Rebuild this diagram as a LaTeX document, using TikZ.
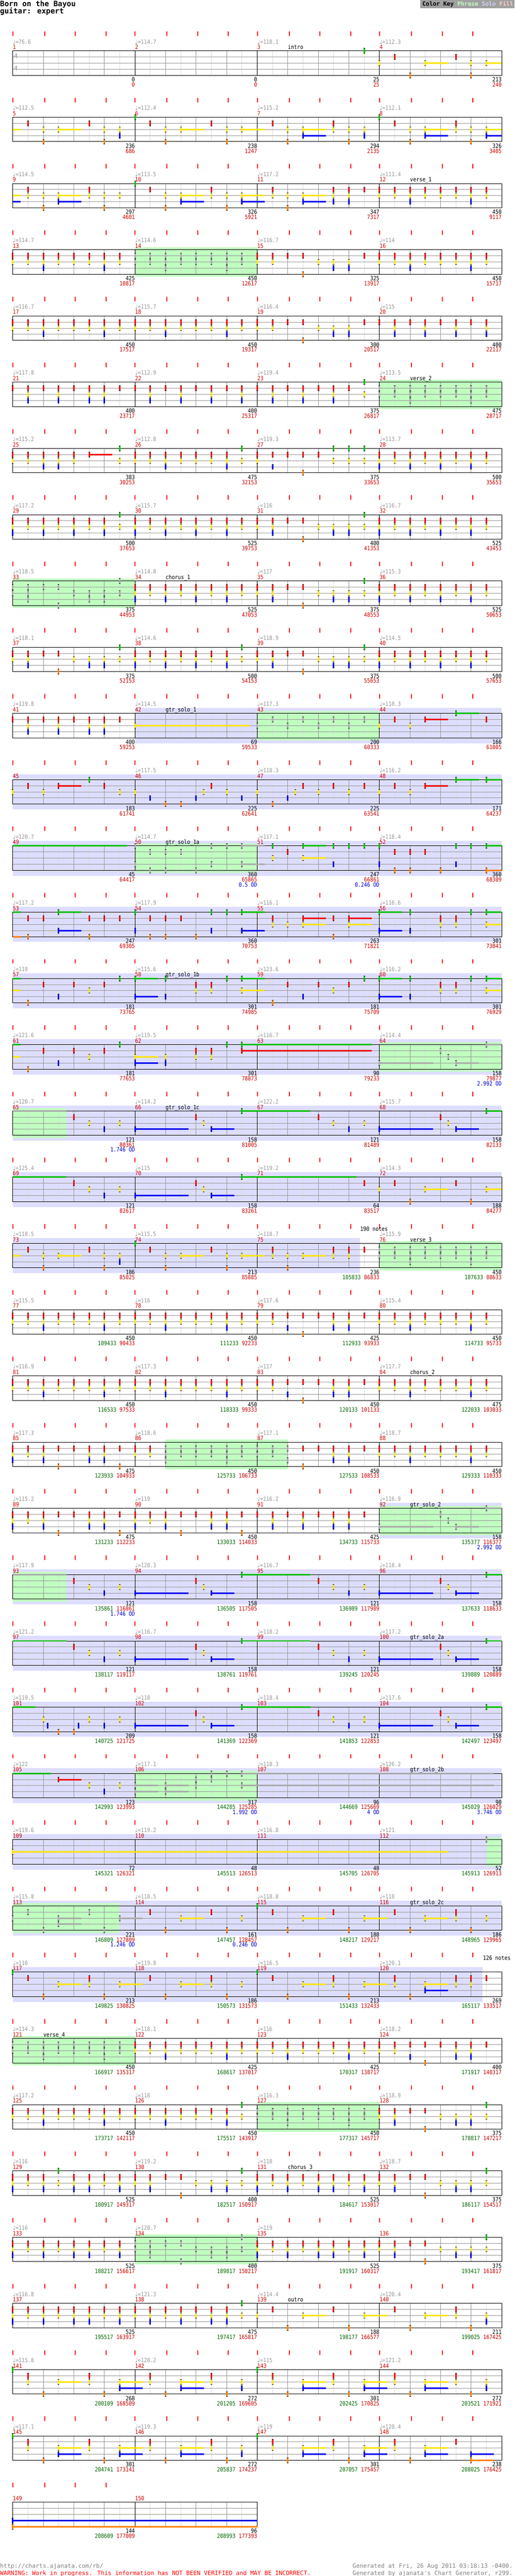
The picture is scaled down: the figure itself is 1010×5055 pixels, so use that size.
\documentclass[tikz,border=0pt]{standalone}
\usepackage{fontspec}
\usepackage{xcolor}
\usepackage{tikz}
\usetikzlibrary{positioning}
\usetikzlibrary{backgrounds}

\newfontfamily\chartfont{DejaVu Sans Mono}[FakeStretch=0.87]
\newfontfamily\chartmono{DejaVu Sans Mono}
\newfontfamily\notefont{DejaVu Sans}

\definecolor{lane0}{RGB}{0,192,0}
\definecolor{lane1}{RGB}{240,0,0}
\definecolor{lane2}{RGB}{250,228,0}
\definecolor{lane3}{RGB}{0,0,240}
\definecolor{lane4}{RGB}{255,128,0}
\definecolor{spgray}{RGB}{170,170,170}
\definecolor{phrasebg}{RGB}{192,255,192}
\definecolor{solobg}{RGB}{221,221,255}
\definecolor{solokey}{RGB}{208,208,255}
\definecolor{fillbg}{RGB}{255,200,200}
\definecolor{tempogray}{RGB}{150,150,150}
\definecolor{mnumred}{RGB}{204,0,0}
\definecolor{gscore}{RGB}{0,102,0}
\definecolor{rscore}{RGB}{200,0,0}
\definecolor{odblue}{RGB}{0,0,204}
\definecolor{keybg}{RGB}{160,160,160}
\definecolor{linegray}{RGB}{150,150,150}
\definecolor{halfgray}{RGB}{220,220,220}
\definecolor{footgray}{RGB}{128,128,128}

\tikzset{
	staffline/.style={draw=black, line width=1pt},
	laneline/.style={draw=linegray, line width=1pt},
	beatline/.style={draw=linegray, line width=1pt},
	halfline/.style={draw=halfgray, line width=1pt},
	beattick/.style={fill=red},
	phrase/.style={fill=phrasebg},
	solo/.style={fill=solobg},
	chart text/.style={inner sep=0pt, font=\chartfont\fontsize{11.5}{12}\selectfont},
	tempo/.style={chart text, text=tempogray, anchor=base west},
	mnum/.style={chart text, text=mnumred, anchor=base west},
	seclabel/.style={chart text, text=black, anchor=base west},
	pts/.style={chart text, text=black, anchor=base east},
	tot/.style={chart text, text=rscore, anchor=base east},
	gtot/.style={chart text, text=gscore},
	od/.style={chart text, text=odblue, anchor=base east},
	timesig/.style={inner sep=0pt, text=spgray, font=\chartmono\bfseries\fontsize{13}{13}\selectfont},
	title/.style={inner sep=0pt, anchor=base west, font=\chartmono\bfseries\fontsize{14.5}{16}\selectfont},
	keytext/.style={inner sep=0pt, anchor=base west, font=\chartmono\bfseries\fontsize{11.4}{12}\selectfont},
	foot/.style={inner sep=0pt, anchor=base west, font=\chartmono\fontsize{11.6}{12}\selectfont}
}

% note patterns: eighth/lane/sustain (lane 0 green ... 4 orange, eighth -1 = tail)
\newcommand{\defpattern}[2]{\expandafter\def\csname pat@#1\endcsname{#2}}
\defpattern{nil}{99/0/0}
\defpattern{intro3}{7/0/0}
\defpattern{intro4}{0/2/0,1/1/0,2/4/0,3/2/1.5,5/1/0,6/2/0,6/4/0,7/2/1.5}
\defpattern{riff1}{-1/2/0.5,1/1/0,2/2/0,2/4/0,3/2/1.5,5/1/0,6/2/0,6/4/0,7/2/0,7/3/0}
\defpattern{riff2}{0/0/0,1/1/0,2/2/0,2/4/0,3/2/1.5,5/1/0,6/2/0,6/4/0,7/2/1.5}
\defpattern{riff3}{1/1/0,2/2/0,2/4/0,3/2/1.5,3/3/1.5,5/1/0,5/2/0,6/2/0,6/4/0,7/2/0,7/3/0}
\defpattern{riff4}{0/0/0,1/1/0,2/2/0,2/4/0,3/2/1.5,3/3/1.5,5/1/0,5/2/0,6/2/0,6/4/0,7/2/1.5,7/3/1.5}
\defpattern{riff5}{-1/2/0.5,-1/3/0.5,1/1/0,1/2/0,2/2/0,2/4/0,3/2/1.5,3/3/1.5,5/1/0,5/2/0,6/2/0,6/4/0,7/2/0}
\defpattern{riff6}{1/1/0,1/2/0,2/2/0,2/4/0,3/2/1.5,3/3/1.5,5/1/0,5/2/0,5/3/0,6/1/0,6/2/0,6/3/0,7/1/0}
\defpattern{riff7}{1/1/0,1/2/0,2/2/0,2/4/0,3/2/1.5,5/1/0,5/2/0,6/1/0,6/2/0,7/1/0}
\defpattern{verse1}{0/1/0,0/2/0,1/1/0,1/2/0,2/1/0,2/2/0,2/3/0,3/1/0,3/2/0,4/1/0,4/2/0,5/1/0,5/2/0,6/1/0,6/2/0,6/3/0,7/1/0,7/2/0}
\defpattern{verse2}{0/1/0,0/2/0,0/3/0,1/1/0,1/2/0,2/1/0,2/2/0,2/3/0,3/1/0,3/2/0,4/1/0,4/2/0,4/3/0,5/1/0,5/2/0,6/1/0,6/2/0,6/3/0,7/1/0,7/2/0}
\defpattern{verse3}{0/1/0,0/2/0,0/3/0,1/1/0,1/2/0,2/1/0,2/2/0,2/3/0,3/1/0,3/2/0,4/1/0,4/2/0,4/3/0,5/1/0,5/2/0,6/1/0,6/2/0,6/3/0,7/0/0,7/2/0}
\defpattern{verse4}{0/1/0,0/2/0,1/1/0,1/2/0,2/1/0,2/2/0,2/3/0,3/1/0,3/2/0,4/1/0,4/2/0,5/1/0,5/2/0,6/1/0,6/2/0,6/3/0,7/0/0,7/2/0}
\defpattern{verse5}{0/1/0,0/2/0,1/1/0,1/2/0,2/1/0,2/2/0,2/3/0,3/1/0,3/2/0,3/3/0,4/1/0,4/2/0,5/1/1.5,7/0/0,7/2/0}
\defpattern{verse6}{0/1/0,0/2/0,1/1/0,1/2/0,1/3/0,2/1/0,2/2/0,3/1/0,3/2/0,3/3/0,4/1/0,4/2/0,5/1/0,5/2/0,5/3/0,6/1/0,6/2/0,6/3/0,7/0/0,7/2/0}
\defpattern{turn1}{0/1/0,0/2/0,1/1/0,1/2/0,2/1/0,3/1/0,3/4/0,4/2/0,5/2/0,5/3/0,6/2/0,6/3/0,7/1/0}
\defpattern{turn2}{0/1/0,0/2/0,1/1/0,1/2/0,2/1/0,2/3/0,3/1/0,3/4/0,4/1/0,5/1/0,5/2/0,5/3/0,6/1/0,6/2/0,6/3/0,7/1/0}
\defpattern{turn3}{0/1/0,0/2/0,1/1/0,1/3/0,2/1/0,3/1/0,3/4/0,4/1/0,5/0/0,5/2/0,6/0/0,6/2/0,7/0/0,7/2/0}
\defpattern{turn4}{0/1/0,0/2/0,1/1/0,1/2/0,1/3/0,2/1/0,3/1/0,3/4/0,4/2/0,5/2/0,5/3/0,6/2/0,6/3/0,7/0/0,7/2/0}
\defpattern{chug1}{0/1/0,1/1/0,1/2/0,1/3/0,2/1/0,3/1/0,3/2/0,3/3/0,4/1/0,5/1/0,5/2/0,5/3/0,6/1/0,6/2/0,6/3/0,7/1/0}
\defpattern{chug2}{0/1/0,1/1/0,1/2/0,1/3/0,2/1/0,3/1/0,3/2/0,3/3/0,4/1/0,5/1/0,5/2/0,5/3/0,6/1/0,7/1/0,7/2/0,7/3/0}
\defpattern{chug3}{0/1/0,1/1/0,1/2/0,1/3/0,2/1/0,3/1/0,3/2/0,3/3/0,4/1/0,5/1/0,5/2/0,5/3/0,6/1/0,7/0/0,7/2/0}
\defpattern{chug4}{0/1/0,0/2/0,0/3/0,1/1/0,1/2/0,2/1/0,2/2/0,2/3/0,3/1/0,3/4/0,4/1/0,5/1/0,5/2/0,5/3/0,6/1/0,6/2/0,6/3/0,7/1/0,7/4/0}
\defpattern{chug5}{0/1/0,0/2/0,0/3/0,1/1/0,1/2/0,2/1/0,2/2/0,2/3/0,3/1/0,3/2/0,4/1/0,4/2/0,4/3/0,5/1/0,5/2/0,5/3/0,6/1/0,6/2/0,7/1/0,7/2/0,7/3/0}
\defpattern{chug6}{0/1/0,0/2/0,0/3/0,1/1/0,1/2/0,2/1/0,2/2/0,2/3/0,3/0/0,3/2/0,4/1/0,4/2/0,4/3/0,5/1/0,5/2/0,5/3/0,6/1/0,6/2/0,7/1/0,7/2/0,7/3/0}
\defpattern{solo1}{0/2/7.5}
\defpattern{solo2}{0/2/0,1/1/0,2/2/0,3/1/0,4/2/0,5/1/0,6/2/0,7/1/0}
\defpattern{solo3}{0/2/0,1/1/0,2/2/0,3/1/1.5,5/0/1.5,7/1/0}
\defpattern{solo4}{0/2/0,1/1/0,2/2/0,3/1/1.5,5/0/0,6/1/0,7/2/0}
\defpattern{solo5}{0/2/0,1/3/0,2/4/0,3/4/0,4/3/0,4.5/2/0,5/1/0,6/2/0,7/3/0}
\defpattern{solo6}{0/2/0,1/4/0,2/3/0,2.5/2/0,3/1/0,4/2/0,5/1/0,6/2/0,7/1/0}
\defpattern{solo7}{0/2/0,1/1/0,2/2/0,3/1/1.5,5/0/1.5,7/0/1.5}
\defpattern{solo8}{-1/0/7.5}
\defpattern{solo9}{0/0/0,0/3/0,1/1/0,1/4/0,2/1/0,2/4/0,3/1/0,4/4/0,5/0/0,5/3/0,6/0/0,7/0/1.5,7/3/1.5}
\defpattern{solo10}{1/0/0,1/2/0,2/1/0,3/0/1.5,3/2/1.5,5/0/0,5/3/0,6/0/0,7/0/0}
\defpattern{solo11}{0/0/0,0/3/0,1/1/0,1/4/0,2/1/0,2/4/0,3/1/0,4/4/0,5/0/0,5/3/0,6/0/0,7/0/1.5,7/4/1.5}
\defpattern{solo12}{-1/0/0.5,-1/4/0.5,1/1/0,1/4/0,2/1/0,3/0/1.5,3/3/1.5,5/1/0,5/4/0,6/1/0,7/1/0}
\defpattern{solo13}{1/1/0,1/2/0,2/2/0,3/1/1.5,3/2/1.5,5/1/0,5/4/0,6/1/1.5,6/2/1.5}
\defpattern{solo14}{0/0/1.5,0/3/1.5,2/0/0,2/3/0,4/1/0,4/2/0,5/1/0,5/2/0,6/0/0,7/0/1.5,7/2/1.5}
\defpattern{solo15}{-1/0/0.5,-1/2/0.5,1/4/0,2/1/0,3/3/0,4/1/0,5/2/0,6/1/0,7/0/0}
\defpattern{solo16}{0/2/1.5,0/3/1.5,2/2/0,2/3/0,4/1/0,4/2/0,5/1/0,5/2/0,6/0/0,7/0/8.5,7/1/8.5}
\defpattern{solo17}{0/3/3.5,4/1/0,4.5/2/0,5/3/1.5,7/0/1.5}
\defpattern{solo18}{-1/0/3.5,4/1/0,5/2/0,6/3/0,7/2/0}
\defpattern{solo19}{0/3/3.5,4/1/0,4.5/2/0,5/3/1.5,7/0/4.5}
\defpattern{solo20}{4/1/0,5/2/0,6/3/0,7/2/0}
\defpattern{solo21}{0/3/3.5,4/1/0,4.5/2/0,5/3/1.5,7/0/7.5}
\defpattern{solo22}{7/1/0}
\defpattern{solo23}{0/2/0,1/1/0,2/4/0,3/2/1.5,5/1/0,6/4/0,7/2/1.5}
\defpattern{solo24}{-1/0/1.5,2/2/0,2.3/3/0,3/4/0,4/4/0,4.3/3/0,5/2/0,6/3/0,7/2/0}
\defpattern{solo25}{-1/0/2.5,3/1/1.5,5/2/0,6/3/0,7/2/0}
\defpattern{solo26}{0/2/1.5,0/3/1.5,2/2/1.5,2/3/1.5,4/1/0,4/2/0,5/0/0,5/1/0,6/0/0,7/0/16.5,7/2/16.5}
\defpattern{solo27}{0/2/28.5}
\defpattern{solo28}{7/0/0}
\defpattern{solo29}{0/2/0,1/1/0,2/4/0,3/2/1.5,3/3/1.5,5/1/0,6/4/0,7/2/1.5}
\defpattern{solo30}{1/1/0,2/4/0,3/2/1.5,5/1/0,6/4/0,7/2/0}
\defpattern{solo31}{0/0/0,1/1/0,2/4/0,3/2/1.5,5/1/0,6/4/0,7/2/1.5}
\defpattern{solo32}{1/1/0,2/4/0,3/2/1.5,5/1/0,5/2/0,6/4/0,7/2/0}
\defpattern{solo33}{0/0/0,1/1/0,2/4/0,3/2/1.5,5/1/0,5/2/0,6/4/0,7/2/1.5}
\defpattern{solo34}{1/1/0,1/2/0,2/4/0,3/2/1.5,3/3/1.5,5/1/0,5/2/0,6/1/0,6/2/0,7/1/0}
\defpattern{outro2}{0/0/0,1/1/0,1/2/0,2/4/0,3/2/1.5,5/1/0,5/2/0,6/4/0,7/2/1.5,7/3/1.5}
\defpattern{outro3}{1/1/0,1/2/0,2/4/0,3/2/1.5,3/3/1.5,5/1/0,5/2/0,6/4/0,7/2/0,7/3/0}
\defpattern{outro4}{0/0/0,1/1/0,1/2/0,2/4/0,3/2/1.5,3/3/1.5,5/1/0,5/2/0,6/4/0,7/2/1.5,7/3/1.5}
\defpattern{outro5}{1/1/0,1/2/0,2/4/0,3/2/1.5,3/3/1.5,5/1/0,6/3/1.5,6/4/1.5}
\defpattern{outro6}{1/1/0,2/4/0,3/2/1.5,5/1/0,5/2/0,6/4/0,7/2/0,7/3/0}
\defpattern{end1}{0/3/16,0/4/16}

% #1 x, #2 y of measure, #3 pattern, #4 #5 star power range, #6 row end
\newcommand{\drawnotes}[6]{%
	\expandafter\let\expandafter\curpat\csname pat@#3\endcsname
	\foreach \np/\nl/\ns in \curpat {%
		\ifdim\np pt<8.5pt
			\pgfmathsetmacro\pp{max(\np,0)}
			\pgfmathsetmacro\xn{#1+\pp*30}
			\pgfmathsetmacro\yn{#2+\nl*12}
			\pgfmathtruncatemacro\isgray{((\pp>=#4)&&(\pp<=#5))?1:0}
			\ifnum\isgray=1 \def\nc{spgray}\else\edef\nc{lane\nl}\fi
			\ifdim\ns pt>0pt
				\pgfmathsetmacro\xe{min(\xn+\ns*30,#6)}
				\fill[\nc] (\xn,\yn-1.5) rectangle (\xe,\yn+1.5);
			\fi
			\ifdim\np pt<0pt\else
				\fill[\nc] (\xn-1.5,\yn-5.5) rectangle (\xn+1.5,\yn+5.5);
				\fill[black] (\xn-1.5,\yn-5.5) rectangle (\xn+1.5,\yn-4.5);
				\fill[black] (\xn-1.5,\yn+4.5) rectangle (\xn+1.5,\yn+5.5);
			\fi
		\fi
	}%
}

\begin{document}
\begin{tikzpicture}[x=1pt,y=-1pt]
	\useasboundingbox (0,0) rectangle (1010,5055);
	\begin{pgfonlayer}{background}
		\fill[white] (0,0) rectangle (1010,5055);
		%solo sections
		\foreach \r/\xa/\xb in {10/265/985,11/25/985,12/25/985,13/25/985,14/25/985,15/25/985,16/25/985,17/25/985,18/25/707,
			22/745/985,23/25/985,24/25/985,25/25/985,26/25/985,27/25/985,28/25/985,29/25/947}
			\fill[solo] (\xa,{100+130*\r-10.5}) rectangle (\xb,{100+130*\r+58.5});
	\end{pgfonlayer}
	
	%header
	\node[title] (songtitle) at (0,12.5) {Born on the Bayou};
	\node[title] (songpart) at (0,27) {guitar: expert};
	\fill[keybg] (825,0) rectangle (1010,16);
	\node[keytext] (colorkey) at (829,11.5) {Color Key \textcolor{phrasebg}{Phrase} \textcolor{solokey}{Solo} \textcolor{fillbg}{Fill}};
	
	%staff rows
	\foreach \r in {0,...,37} {
		\pgfmathsetmacro\ry{100+130*\r}
		\ifnum\r=37 \def\nm{2}\def\nt{1}\else\def\nm{4}\def\nt{4}\fi
		\pgfmathsetmacro\rx{25+240*\nm}
		\pgfmathtruncatemacro\hk{8*\nm-1}
		\pgfmathtruncatemacro\bk{4*\nm-1}
		\pgfmathtruncatemacro\mk{\nm-1}
		\pgfmathtruncatemacro\tk{\nt-1}
		\foreach \k in {1,3,...,\hk} \draw[halfline] (25+30*\k,\ry) -- (25+30*\k,\ry+48);
		\foreach \k in {1,...,\bk} \draw[beatline] (25+60*\k,\ry) -- (25+60*\k,\ry+48);
		\foreach \j in {1,2,3} \draw[laneline] (25,\ry+12*\j) -- (\rx,\ry+12*\j);
		\foreach \k in {1,...,\mk} \draw[staffline] (25+240*\k,\ry) -- (25+240*\k,\ry+48);
		\draw[staffline] (25,\ry) rectangle (\rx,\ry+48);
		\foreach \k in {0,...,\tk} \foreach \o in {0,63,123,183}
			\fill[beattick] (25+240*\k+\o-1,\ry-38) rectangle (25+240*\k+\o+1,\ry-29);
	}
	\node[timesig] (tsa) at (31,110) {4};
	\node[timesig] (tsb) at (31,134) {4};
	
	%measures: number/tempo/score/green total/red total/pattern/star power from/to
	\foreach \mm/\tempo/\pts/\gsc/\rsc/\pat/\ga/\gb in {
		1/76.6/0/0/0/nil/9/9, 2/114.7/0/0/0/nil/9/9, 3/118.1/25/0/25/intro3/9/9, 4/112.3/213/0/240/intro4/9/9,
		5/112.5/236/0/686/riff1/9/9, 6/112.4/238/0/1247/riff2/9/9, 7/115.2/294/0/2135/riff3/9/9, 8/112.1/326/0/3405/riff4/9/9,
		9/114.5/297/0/4601/riff5/9/9, 10/113.5/326/0/5921/riff4/9/9, 11/117.2/347/0/7317/riff6/9/9, 12/111.4/450/0/9117/verse1/9/9,
		13/114.7/425/0/10817/verse1/9/9, 14/114.6/450/0/12617/verse1/0/8, 15/116.7/325/0/13917/turn1/9/9, 16/114/450/0/15717/verse1/9/9,
		17/116.7/450/0/17517/verse1/9/9, 18/115.7/450/0/19317/verse1/9/9, 19/116.4/300/0/20517/turn1/9/9, 20/115/400/0/22117/chug2/9/9,
		21/117.8/400/0/23717/chug1/9/9, 22/112.9/400/0/25317/chug2/9/9, 23/119.4/375/0/26817/chug3/9/9, 24/113.5/475/0/28717/verse1/0/8,
		25/115.2/383/0/30253/verse5/9/9, 26/112.8/475/0/32153/verse4/9/9, 27/119.3/375/0/33653/turn3/9/9, 28/113.7/500/0/35653/verse2/9/9,
		29/117.2/500/0/37653/verse3/9/9, 30/115.7/525/0/39753/verse2/9/9, 31/116/400/0/41353/turn4/9/9, 32/116.7/525/0/43453/verse2/9/9,
		33/118.5/375/0/44953/turn4/0/8, 34/114.8/525/0/47053/verse2/9/9, 35/117/375/0/48553/turn4/9/9, 36/115.3/525/0/50653/verse2/9/9,
		37/118.1/375/0/52153/turn4/9/9, 38/114.6/500/0/54153/verse3/9/9, 39/118.9/375/0/55653/turn4/9/9, 40/114.5/500/0/57653/verse2/9/9,
		41/119.8/400/0/59253/chug1/9/9, 42/114.5/69/0/59533/solo1/9/9, 43/117.3/200/0/60333/solo2/0/8, 44/118.3/166/0/61005/solo3/9/9,
		45/0/183/0/61741/solo4/9/9, 46/117.5/225/0/62641/solo5/9/9, 47/118.3/225/0/63541/solo6/9/9, 48/116.2/171/0/64237/solo7/9/9,
		49/120.7/45/0/64417/solo8/9/9, 50/114.7/360/0/65865/solo9/0/8, 51/117.1/247/0/66861/solo10/9/9, 52/118.4/360/0/68309/solo11/9/9,
		53/117.2/247/0/69305/solo12/9/9, 54/117.9/360/0/70753/solo9/9/9, 55/116.1/263/0/71821/solo13/9/9, 56/116.6/301/0/73041/solo14/9/9,
		57/119/181/0/73765/solo15/9/9, 58/115.6/301/0/74985/solo14/9/9, 59/123.6/181/0/75709/solo15/9/9, 60/116.2/301/0/76929/solo14/9/9,
		61/121.6/181/0/77653/solo15/9/9, 62/119.5/301/0/78873/solo16/9/9, 63/116.7/90/0/79233/nil/9/9, 64/114.4/158/0/79877/solo17/0/8,
		65/120.7/121/0/80361/solo18/0/3.5, 66/114.2/158/0/81005/solo19/9/9, 67/122.2/121/0/81489/solo20/9/9, 68/115.7/158/0/82133/solo19/9/9,
		69/125.4/121/0/82617/solo18/9/9, 70/115/158/0/83261/solo21/9/9, 71/119.2/64/0/83517/solo22/9/9, 72/114.3/188/0/84277/solo23/9/9,
		73/118.5/186/0/85025/riff1/9/9, 74/115.5/213/0/85885/riff2/9/9, 75/118.7/236/105833/86833/riff7/9/9, 76/115.9/450/107633/88633/verse1/0/8,
		77/115.5/450/109433/90433/verse1/9/9, 78/116/450/111233/92233/verse1/9/9, 79/117.6/425/112933/93933/turn2/9/9, 80/115.4/450/114733/95733/verse1/9/9,
		81/116.9/450/116533/97533/verse1/9/9, 82/117.3/450/118333/99333/verse1/9/9, 83/117/450/120133/101133/turn2/9/9, 84/117.7/475/122033/103033/verse1/9/9,
		85/117.3/475/123933/104933/chug4/9/9, 86/118.6/450/125733/106733/verse1/2/8, 87/117.1/450/127533/108533/turn2/0/2, 88/118.7/450/129333/110333/verse1/9/9,
		89/115.2/475/131233/112233/chug4/9/9, 90/119/450/133033/114033/chug4/9/9, 91/116.2/425/134733/115733/chug1/9/9, 92/116.9/158/135377/116377/solo17/0/8,
		93/117.9/121/135861/116861/solo18/0/3.5, 94/120.3/158/136505/117505/solo19/9/9, 95/116.7/121/136989/117989/solo20/9/9, 96/118.4/158/137633/118633/solo19/9/9,
		97/121.2/121/138117/119117/solo18/9/9, 98/116.7/158/138761/119761/solo19/9/9, 99/118.2/121/139245/120245/solo20/9/9, 100/117.2/158/139889/120889/solo19/9/9,
		101/119.5/209/140725/121725/solo24/9/9, 102/118/158/141369/122369/solo19/9/9, 103/118.4/121/141853/122853/solo20/9/9, 104/117.6/158/142497/123497/solo19/9/9,
		105/122/123/142993/123993/solo25/9/9, 106/117.1/317/144285/125285/solo26/0/8, 107/118.3/96/144669/125669/nil/9/9, 108/126.2/90/145029/126029/nil/9/9,
		109/119.6/72/145321/126321/solo27/9/9, 110/119.2/48/145513/126513/nil/9/9, 111/116.8/48/145705/126705/nil/9/9, 112/121/52/145913/126913/solo28/7/8,
		113/115.8/221/146809/127809/solo29/0/7, 114/118.5/161/147457/128457/solo30/9/9, 115/118.8/188/148217/129217/solo31/9/9, 116/118/186/148965/129965/solo32/9/9,
		117/116/213/149825/130825/solo33/9/9, 118/119.8/186/150573/131573/solo32/9/9, 119/116.5/213/151433/132433/solo33/9/9, 120/120.1/269/165117/133517/solo34/9/9,
		121/114.3/450/166917/135317/verse1/0/8, 122/118.1/425/168617/137017/verse1/9/9, 123/116/425/170317/138717/verse1/9/9, 124/118.2/400/171917/140317/turn2/9/9,
		125/117.2/450/173717/142117/verse1/9/9, 126/118/450/175517/143917/verse4/9/9, 127/116.3/450/177317/145717/verse1/0/8, 128/118.9/375/178817/147217/turn4/9/9,
		129/116/525/180917/149317/chug6/9/9, 130/119.2/400/182517/150917/turn4/9/9, 131/118/525/184617/153017/chug5/9/9, 132/118.7/375/186117/154517/turn4/9/9,
		133/116/525/188217/156617/chug5/9/9, 134/120.7/400/189817/158217/turn4/0/8, 135/119/525/191917/160317/chug5/9/9, 136/0/375/193417/161817/turn4/9/9,
		137/116.8/525/195517/163917/chug5/9/9, 138/121.3/475/197417/165817/verse6/9/9, 139/114.4/188/198177/166577/solo23/9/9, 140/120.4/211/199025/167425/outro6/9/9,
		141/115.8/268/200109/168509/outro2/9/9, 142/120.2/272/201205/169605/outro3/9/9, 143/115/301/202425/170825/outro4/9/9, 144/121.2/272/203521/171921/outro3/9/9,
		145/117.1/301/204741/173141/outro4/9/9, 146/119.3/272/205837/174237/outro3/9/9, 147/119/301/207057/175457/outro4/9/9, 148/120.4/238/208025/176425/outro5/9/9,
		149/0/144/208609/177009/end1/9/9, 150/0/96/208993/177393/nil/9/9} {
		\pgfmathtruncatemacro\mnum{\mm}
		\pgfmathtruncatemacro\row{(\mnum-1)/4}
		\pgfmathtruncatemacro\col{\mnum-1-4*\row}
		\pgfmathsetmacro\mx{25+240*\col}
		\pgfmathsetmacro\my{100+130*\row}
		\ifnum\mnum>148 \def\rowend{505}\else\def\rowend{985}\fi
		\ifdim\ga pt<8.5pt
			\begin{pgfonlayer}{background}
				\fill[phrase] (\mx+\ga*30,\my-5) rectangle (\mx+\gb*30,\my+53);
			\end{pgfonlayer}
		\fi
		\drawnotes{\mx}{\my}{\pat}{\ga}{\gb}{\rowend}
		\ifdim\tempo pt>0pt \node[tempo] (t\mnum) at (\mx,\my-14) {{\notefont ♩}=\tempo};\fi
		\node[mnum] (n\mnum) at (\mx,\my-3.3) {\mnum};
		\node[pts] (p\mnum) at (\mx+240,\my+60.5) {\pts};
		\node[tot] (s\mnum) at (\mx+240,\my+70.5) {\rsc};
		\ifnum\gsc>0 \node[gtot, base left=6pt of s\mnum] (g\mnum) {\gsc};\fi
	}
	
	%section names
	\foreach \mm/\lbl in {3/intro, 12/verse\_1, 24/verse\_2, 34/chorus\_1, 42/gtr\_solo\_1, 50/gtr\_solo\_1a, 58/gtr\_solo\_1b,
		66/gtr\_solo\_1c, 76/verse\_3, 84/chorus\_2, 92/gtr\_solo\_2, 100/gtr\_solo\_2a, 108/gtr\_solo\_2b, 116/gtr\_solo\_2c,
		121/verse\_4, 131/chorus\_3, 139/outro} {
		\pgfmathtruncatemacro\row{(\mm-1)/4}
		\pgfmathtruncatemacro\col{\mm-1-4*\row}
		\node[seclabel] (sec\mm) at (85+240*\col,100+130*\row-3.3) {\lbl};
	}
	\node[seclabel] (notesa) at (707,2416) {190 notes};
	\node[seclabel] (notesb) at (948,3846) {126 notes};
	
	%overdrive
	\foreach \mm/\odv in {50/0.5, 51/0.246, 64/2.992, 65/1.746, 92/2.992, 93/1.746, 106/1.992, 107/4, 108/3.746, 113/1.246, 114/0.246} {
		\pgfmathtruncatemacro\row{(\mm-1)/4}
		\pgfmathtruncatemacro\col{\mm-1-4*\row}
		\node[od] (od\mm) at (265+240*\col,100+130*\row+80.5) {\odv{} OD};
	}
	
	%footer
	\node[foot, text=footgray] (url) at (0,5039) {http://charts.ajanata.com/rb/};
	\node[foot, text=red] (warn) at (0,5053) {WARNING: Work in progress. This information has NOT BEEN VERIFIED and MAY BE INCORRECT.};
	\node[foot, text=footgray] (gena) at (692,5039) {Generated at Fri, 26 Aug 2011 03:18:13 -0400.};
	\node[foot, text=footgray] (genb) at (692,5053) {Generated by ajanata's Chart Generator, r299.};
\end{tikzpicture}
\end{document}
